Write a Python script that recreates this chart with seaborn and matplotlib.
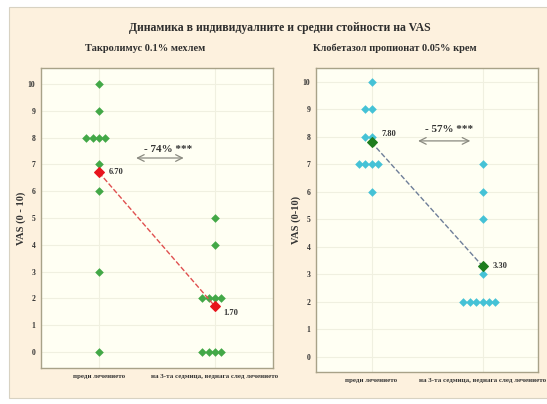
import numpy as np
import pandas as pd
import matplotlib
matplotlib.use("Agg")
import matplotlib.pyplot as plt
import matplotlib.patches as mpatches
import seaborn as sns

# ---- data ----
categories = ["преди лечението", "на 3-та седмица, веднага след лечението"]
tac_before = [10, 9, 8, 8, 8, 8, 7, 6, 3, 0]
tac_after = [5, 4, 2, 2, 2, 2, 0, 0, 0, 0]
clob_before = [10, 9, 9, 8, 8, 7, 7, 7, 7, 6]
clob_after = [7, 6, 5, 3, 2, 2, 2, 2, 2, 2]
yticks = list(range(0, 11))
title = "Динамика в индивидуалните и средни стойности на VAS"
sub_left = "Такролимус 0.1% мехлем"
sub_right = "Клобетазол пропионат 0.05% крем"
ylabel_left = "VAS (0 - 10)"
ylabel_right = "VAS (0-10)"
change_left = "- 74% ***"
change_right = "- 57% ***"

sns.set_theme(style="white")
plt.rcParams["font.family"] = ["Liberation Serif", "DejaVu Serif"]
plt.rcParams["font.weight"] = "bold"

fig = plt.figure(figsize=(5.47, 4.04), dpi=100)
fig.patch.set_facecolor("white")
bg = mpatches.Rectangle((9 / 547, 1 - 398 / 404), 540 / 547, 391 / 404,
                        transform=fig.transFigure, facecolor="#fdf1de",
                        edgecolor="#d8d2c2", linewidth=0.8, zorder=-10)
fig.patches.append(bg)

fig.text(0.512, 0.931, title, ha="center", va="center", fontsize=8.5,
         fontweight="bold", color="#2e2e2e")
fig.text(0.265, 0.881, sub_left, ha="center", va="center", fontsize=7.5,
         fontweight="bold", color="#2e2e2e")
fig.text(0.722, 0.881, sub_right, ha="center", va="center", fontsize=7.5,
         fontweight="bold", color="#2e2e2e")

ax1 = fig.add_axes([41 / 547, 1 - 368 / 404, 232 / 547, 300 / 404])
ax2 = fig.add_axes([316 / 547, 1 - 372 / 404, 222 / 547, 304 / 404])


def panel(ax, before, after, pcolor, mcolor, lcolor, ylabel, ylim,
          change, arrow_x, arrow_y, text_xy, lab_offsets):
    df = pd.DataFrame({
        "time": [categories[0]] * len(before) + [categories[1]] * len(after),
        "vas": before + after,
    })
    ax.set_facecolor("#fffff3")
    sns.swarmplot(data=df, x="time", y="vas", order=categories, color=pcolor,
                  marker="D", size=4.4, linewidth=0, ax=ax, zorder=3)
    sns.pointplot(data=df, x="time", y="vas", order=categories,
                  estimator="mean", errorbar=None, color=mcolor, markers="D",
                  linestyles="--", markersize=5.5, linewidth=1.0, ax=ax,
                  zorder=5)
    for ln in ax.lines:
        ln.set_color(lcolor)
        ln.set_markerfacecolor(mcolor)
        ln.set_markeredgecolor(mcolor)
    means = [np.mean(before), np.mean(after)]
    for i, (m, off) in enumerate(zip(means, lab_offsets)):
        ax.annotate(f"{m:.2f}", xy=(i, m), xytext=off, textcoords="offset points",
                    ha="left", va="center", fontsize=6, color="#333333",
                    fontweight="bold")
    ax.annotate("", xy=(arrow_x[1], arrow_y), xytext=(arrow_x[0], arrow_y),
                arrowprops=dict(arrowstyle="<->", color="#8a8a80", lw=0.9,
                                shrinkA=0, shrinkB=0))
    ax.text(text_xy[0], text_xy[1], change, ha="center", va="center",
            fontsize=8, color="#333333")
    ax.set_xlim(-0.5, 1.5)
    ax.set_ylim(*ylim)
    ax.set_yticks(yticks)
    ax.set_yticklabels([str(t) for t in yticks], fontsize=5.5, fontweight="bold",
                       color="#333333")
    ax.set_xticks([0, 1])
    ax.set_xticklabels(categories, fontsize=5, fontweight="bold",
                       color="#333333")
    ax.set_xlabel("")
    ax.set_ylabel(ylabel, fontsize=7.5, fontweight="bold", color="#333333",
                  labelpad=1)
    ax.grid(True, color="#f0f0e0", linewidth=0.8)
    ax.xaxis.grid(True, color="#f0f0e0", linewidth=0.8)
    ax.set_axisbelow(True)
    ax.tick_params(axis="both", length=2, pad=2, color="#a09a80")
    for s in ax.spines.values():
        s.set_color("#a8a288")
        s.set_linewidth(1.0)


panel(ax1, tac_before, tac_after, "#43a847", "#e8141c", "#e05050",
      ylabel_left, (-0.6, 10.6), change_left, (0.32, 0.73), 7.24,
      (0.6, 7.55), [(7, 0), (6, -5)])
panel(ax2, clob_before, clob_after, "#45c2d6", "#1e7d1e", "#6f7f99",
      ylabel_right, (-0.55, 10.5), change_right, (0.42, 0.89), 7.85,
      (0.7, 8.27), [(7, 6), (7, 0)])

fig.savefig("out.png", dpi=100, facecolor=fig.get_facecolor())
